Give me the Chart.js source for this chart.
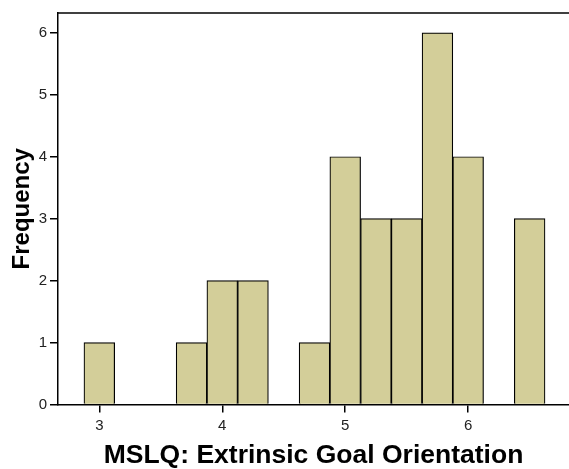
<!DOCTYPE html>
<html>
<head>
<meta charset="utf-8">
<script src="https://cdn.jsdelivr.net/npm/chart.js@4"></script>
<style>
  html, body { margin: 0; padding: 0; background: #fff; }
  #wrap { width: 569px; height: 469px; }
</style>
</head>
<body>
<div id="wrap"><canvas id="histChart"></canvas></div>
<script>
// bin midpoints of the histogram and their counts
const binCenters = [3, 3.75, 4, 4.25, 4.75, 5, 5.25, 5.5, 5.75, 6, 6.5];
const frequencies = [1, 1, 2, 2, 1, 4, 3, 3, 6, 4, 3];
const xTickValues = [3, 4, 5, 6];
const yTickValues = [0, 1, 2, 3, 4, 5, 6];

// top frame line of the plot box
const topFrame = {
    id: 'topFrame',
    afterDraw(chart) {
        const ctx = chart.ctx;
        const area = chart.chartArea;
        ctx.save();
        ctx.strokeStyle = '#000';
        ctx.lineWidth = 1.5;
        ctx.beginPath();
        ctx.moveTo(area.left, area.top);
        ctx.lineTo(area.right, area.top);
        ctx.stroke();
        ctx.restore();
    }
};

const ctx = document.getElementById('histChart').getContext('2d');
new Chart(ctx, {
    type: 'bar',
    data: {
        datasets: [{
            label: 'Frequency',
            data: binCenters.map((x, i) => ({ x: x, y: frequencies[i] })),
            backgroundColor: '#d3ce99',
            borderColor: '#000',
            borderWidth: 1.2,
            categoryPercentage: 1.0,
            barPercentage: 1.0,
        }]
    },
    options: {
        responsive: true,
        maintainAspectRatio: false,
        animation: false,
        layout: {
            padding: { top: 13, right: 0, left: 0, bottom: 0 }
        },
        scales: {
            x: {
                type: 'linear',
                offset: false,
                min: 2.664,
                max: 6.82,
                afterBuildTicks: axis => { axis.ticks = xTickValues.map(v => ({ value: v })); },
                afterFit: axis => { axis.height = 64.5; },
                grid: {
                    display: true,
                    offset: false,
                    drawOnChartArea: false,
                    drawTicks: true,
                    tickLength: 8,
                    color: '#000',
                    lineWidth: 1.5
                },
                border: { display: true, color: '#000', width: 1.5 },
                ticks: {
                    color: '#222',
                    font: { family: 'Liberation Sans, Arial', size: 15 },
                    padding: 4
                },
                title: {
                    display: true,
                    text: 'MSLQ: Extrinsic Goal Orientation',
                    color: '#000',
                    font: { family: 'Liberation Sans, Arial', size: 26.5, weight: 'bold', lineHeight: 1.0 },
                    padding: { top: 5, bottom: 0 }
                }
            },
            y: {
                min: 0,
                max: 6.32,
                afterBuildTicks: axis => { axis.ticks = yTickValues.map(v => ({ value: v })); },
                afterFit: axis => { axis.width = 58; },
                grid: {
                    display: true,
                    drawOnChartArea: false,
                    drawTicks: true,
                    tickLength: 8,
                    color: '#000',
                    lineWidth: 1.5
                },
                border: { display: true, color: '#000', width: 1.5 },
                ticks: {
                    color: '#222',
                    font: { family: 'Liberation Sans, Arial', size: 15 },
                    padding: 3
                },
                title: {
                    display: true,
                    text: 'Frequency',
                    color: '#000',
                    font: { family: 'Liberation Sans, Arial', size: 24, weight: 'bold' },
                    padding: { top: 8, bottom: 0 }
                }
            }
        },
        plugins: {
            legend: { display: false },
            tooltip: { enabled: false }
        }
    },
    plugins: [topFrame]
});
</script>
</body>
</html>
